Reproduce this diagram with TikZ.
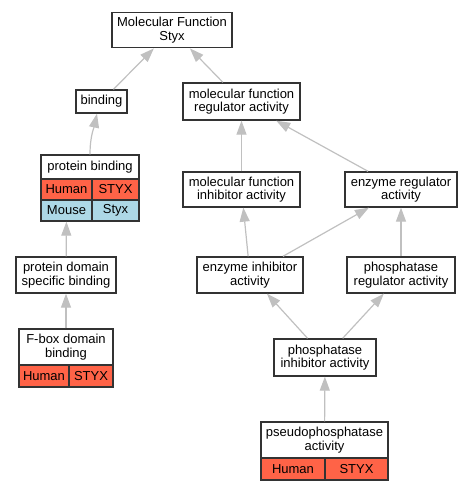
\documentclass[tikz,border=0pt]{standalone}
\usepackage{fontspec}
\setmainfont{Liberation Sans}
\usetikzlibrary{arrows.meta}

\definecolor{hitred}{HTML}{FF6347}
\definecolor{hitblue}{HTML}{ADD8E6}
\definecolor{edgegray}{HTML}{C0C0C0}

\tikzset{every picture/.style={line width=0.75pt}}
\tikzset{
  term/.style={draw=black!80, line width=1pt, fill=white, align=center, inner sep=1pt, font=\fontsize{9.75}{10}\selectfont},
  human/.style={term, fill=hitred},
  mouse/.style={term, fill=hitblue},
  isa/.style={draw=edgegray, line width=0.9pt, -{Triangle[length=10.5pt,width=7.5pt]}}
}

\begin{document}
\begin{tikzpicture}[x=0.75pt,y=0.75pt,yscale=-1]
\useasboundingbox (0,0) rectangle (471,491);

\node [term, minimum width=90pt, minimum height=26.6pt] (mf) at (172,30) {Molecular Function\\Styx};
\node [term, minimum width=38.25pt, minimum height=17.25pt] (binding) at (101.5,101.5) {binding};
\node [term, minimum width=87.75pt, minimum height=27.75pt] (mfreg) at (241.5,101.5) {molecular function\\regulator activity};

\node [term, minimum width=73.5pt, minimum height=18pt] (pb) at (90,167) {protein binding};
\node [human, minimum width=38.25pt, minimum height=15.75pt] (pbhuman) at (66.5,189.5) {Human};
\node [human, minimum width=35.25pt, minimum height=15.75pt] (pbstyx) at (115.5,189.5) {STYX};
\node [mouse, minimum width=38.25pt, minimum height=15.75pt] (pbmouse) at (66.5,210.5) {Mouse};
\node [mouse, minimum width=35.25pt, minimum height=15.75pt] (pbmstyx) at (115.5,210.5) {Styx};

\node [term, minimum width=87.75pt, minimum height=26.25pt] (mfinh) at (241.5,189.5) {molecular function\\inhibitor activity};
\node [term, minimum width=84pt, minimum height=26.25pt] (enzreg) at (401,189.5) {enzyme regulator\\activity};

\node [term, minimum width=75pt, minimum height=27pt] (pdsb) at (66,275) {protein domain\\specific binding};
\node [term, minimum width=79.5pt, minimum height=27pt] (enzinh) at (250,275) {enzyme inhibitor\\activity};
\node [term, minimum width=81pt, minimum height=27pt] (phreg) at (401,275) {phosphatase\\regulator activity};

\node [term, minimum width=70.5pt, minimum height=27pt] (fbox) at (66,347) {F-box domain\\binding};
\node [human, minimum width=37.5pt, minimum height=16.5pt] (fbhuman) at (44,376) {Human};
\node [human, minimum width=33pt, minimum height=16.5pt] (fbstyx) at (91,376) {STYX};

\node [term, minimum width=76.5pt, minimum height=27.75pt] (phinh) at (325,357.5) {phosphatase\\inhibitor activity};

\node [term, minimum width=95.25pt, minimum height=27pt] (pseudo) at (324.5,440) {pseudophosphatase\\activity};
\node [human, minimum width=48pt, minimum height=16.5pt] (pshuman) at (293,469) {Human};
\node [human, minimum width=47.25pt, minimum height=16.5pt] (psstyx) at (356.5,469) {STYX};

% is_a links
\draw [isa] (binding) -- (mf);
\draw [isa] (mfreg) -- (mf);
\draw [isa] (pb.north) .. controls +(0,-18) and +(-3,14) .. ([xshift=-3.4pt]binding.south);
\draw [isa] (mfinh) -- (mfreg);
\draw [isa] (enzreg) -- (mfreg);
\draw [isa] (enzinh) -- (mfinh);
\draw [isa] (enzinh) -- (enzreg);
\draw [isa] (phreg) -- (enzreg);
\draw [isa] (pdsb) -- (pbmouse);
\draw [isa] (fbox) -- (pdsb);
\draw [isa] (phinh) -- (enzinh);
\draw [isa] (phinh) -- (phreg);
\draw [isa] (pseudo) -- (phinh);

\end{tikzpicture}
\end{document}
